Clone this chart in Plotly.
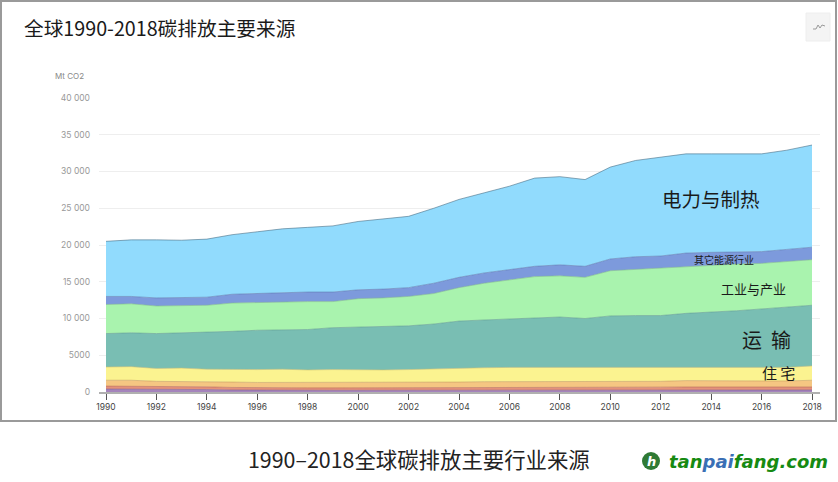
import plotly.graph_objects as go

W, H = 838, 482
years = list(range(1990, 2019))
agriculture = [400,400,390,370,330,270,240,230,230,230,230,230,240,240,250,250,250,260,260,260,260,260,260,270,270,270,270,270,270]
fugitive = [400,400,390,380,370,350,340,340,330,330,330,330,340,360,370,390,400,400,400,390,400,400,400,410,410,400,400,400,410]
commercial = [800,800,670,700,700,730,720,730,740,740,690,690,720,700,730,760,750,740,740,750,790,790,790,870,820,830,830,830,920]
residential = [1800,1850,1750,1800,1700,1700,1750,1800,1700,1750,1750,1750,1750,1850,1950,1900,1950,1950,1950,1900,1900,1850,1850,1800,1800,1800,1800,1850,1950]
transport = [4550,4600,4750,4800,4950,5200,5350,5400,5500,5700,5800,5900,5950,6100,6350,6500,6600,6800,6850,6700,7000,7100,7100,7350,7550,7750,8000,8200,8250]
industry = [3950,3950,3750,3750,3750,3850,3800,3800,3800,3550,3900,3900,4000,4150,4550,5000,5250,5550,5600,5600,6150,6300,6400,6400,6450,6350,6200,6150,6200]
other_energy = [1100,1000,1100,1100,1100,1200,1200,1300,1300,1300,1200,1200,1200,1400,1400,1400,1400,1400,1500,1500,1600,1700,1700,1800,1700,1600,1600,1700,1700]
power_heat = [7500,7700,7900,7750,7900,8100,8400,8600,8800,9000,9300,9600,9700,10200,10600,10900,11400,12000,12000,11800,12500,13100,13400,13500,13400,13400,13300,13500,13900]

y_ticks = [0,5000,10000,15000,20000,25000,30000,35000,40000]
y_labels = ["0","5000","10 000","15 000","20 000","25 000","30 000","35 000","40 000"]
x_ticks = list(range(1990, 2019, 2))

series = [
    ("其他", agriculture, "#A584BC", "#7d5f95"),
    ("逸散", fugitive, "#E4917A", "#b5685a"),
    ("商业", commercial, "#F5C682", "#c49a5f"),
    ("住宅", residential, "#FBF390", "#c9c070"),
    ("运输", transport, "#79BEB3", "#5f9a90"),
    ("工业与产业", industry, "#A9F3AE", "#7fbf86"),
    ("其它能源行业", other_energy, "#7D9ADC", "#6079b0"),
    ("电力与制热", power_heat, "#91DBFD", "#4b6f85"),
]

fx = lambda p: p / W
fy = lambda p: 1 - p / H
px_per_year = (812 - 106) / 28
x_range = [1990 - (106 - 99) / px_per_year, 2018 + (820 - 812) / px_per_year]

fig = go.Figure()
for name, vals, fill, line in series:
    fig.add_trace(go.Scatter(x=years, y=vals, name=name, stackgroup="one", mode="lines",
                             fillcolor=fill, line=dict(color=line, width=0.6), hoverinfo="x+y+name"))

CJK = "Noto Sans CJK SC"
def label(text, x, y, size, color="#1a1a1a", font=CJK, anchor="center"):
    fig.add_annotation(text=text, xref="paper", yref="paper", x=fx(x), y=fy(y), xanchor=anchor,
                       yanchor="middle", showarrow=False, font=dict(family=font, size=size, color=color))

label("全球1990-2018碳排放主要来源", 22, 27, 19.7, anchor="left")
label("Mt CO2", 53, 75.5, 8, "#888888", "Inter", "left")
label("电力与制热", 711, 198.5, 19.5)
label("其它能源行业", 723.5, 259, 10)
label("工业与产业", 753, 288, 13)
label("运  输", 766, 339.5, 20)
label("住 宅", 778, 372.5, 15)
label("1990–2018全球碳排放主要行业来源", 419, 458, 21.4, "#222222")
label("<b><i>tan<span style='color:#3a6fb5'>pai</span>fang.com</i></b>", 666.5, 461, 18, "#168a12", "DejaVu Sans", "left")
label("<b><i>h</i></b>", 651, 461, 13, "#ffffff", "DejaVu Sans")

shapes = [
    dict(type="rect", xref="paper", yref="paper", x0=fx(1), x1=fx(836), y0=fy(1), y1=fy(421),
         line=dict(color="#9a9a9a", width=2), fillcolor="rgba(0,0,0,0)", layer="below"),
    dict(type="rect", xref="paper", yref="paper", x0=fx(806), x1=fx(830), y0=fy(13), y1=fy(41),
         line=dict(color="#eeeeee", width=1), fillcolor="#f4f4f4", layer="below"),
    dict(type="path", xref="paper", yref="paper",
         path="M {} {} L {} {} L {} {} L {} {} L {} {} L {} {}".format(
             fx(813), fy(29), fx(816), fy(29), fx(818), fy(25), fx(820), fy(28), fx(822), fy(25), fx(825), fy(26)),
         line=dict(color="#999999", width=1)),
    dict(type="circle", xref="paper", yref="paper", x0=fx(642), x1=fx(660), y0=fy(452), y1=fy(470),
         line=dict(color="#2f7a35", width=0), fillcolor="#2f7a35", layer="below"),
]

fig.update_layout(
    width=W, height=H, autosize=False, showlegend=False,
    margin=dict(l=0, r=0, t=0, b=0), paper_bgcolor="#ffffff", plot_bgcolor="#ffffff",
    shapes=shapes,
    xaxis=dict(domain=[fx(99), fx(820)], range=x_range, tickmode="array", tickvals=x_ticks, automargin=False,
               ticktext=[str(v) for v in x_ticks], ticks="outside", ticklen=6, tickwidth=1, tickcolor="#555555",
               showgrid=False, showline=True, linecolor="#b0b0b0", linewidth=1.5, zeroline=False,
               tickfont=dict(family="Inter", size=8.5, color="#444444")),
    yaxis=dict(domain=[fy(392), fy(98)], range=[0, 40000], tickmode="array", tickvals=y_ticks, automargin=False,
               ticktext=y_labels, showgrid=True, gridcolor="#eeeeee", gridwidth=1, zeroline=False,
               showline=False, ticks="", ticklabelstandoff=8,
               tickfont=dict(family="Inter", size=8.5, color="#999999")),
)

fig.write_html("out.html", config=dict(displayModeBar=False),
               post_script="document.body.style.margin='0';document.body.style.overflow='hidden';")
